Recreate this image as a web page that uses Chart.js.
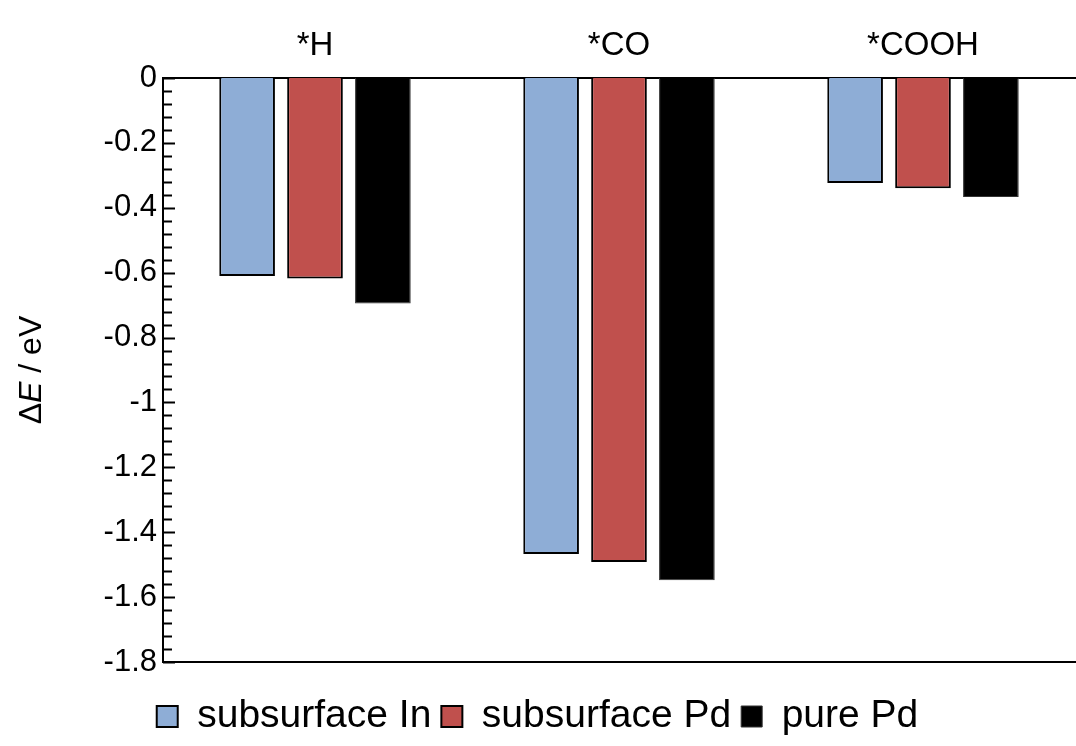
<!DOCTYPE html>
<html>
<head>
<meta charset="utf-8">
<script src="https://cdn.jsdelivr.net/npm/chart.js@4"></script>
<style>
  body { margin: 0; background: #fff; }
</style>
</head>
<body>
<canvas id="c" width="1076" height="746"></canvas>
<script>
const adsorbates = ['*H', '*CO', '*COOH'];
const subsurfaceIn = [-0.610, -1.467, -0.324];
const subsurfacePd = [-0.618, -1.492, -0.340];
const purePd = [-0.695, -1.548, -0.367];

const FONT = '"Liberation Sans", Arial, sans-serif';

// inward minor/major ticks on the y axis and y title with italic E
const frame = {
  id: 'frame',
  afterDraw(chart) {
    const { ctx, chartArea: a, scales: { y } } = chart;
    ctx.save();
    ctx.strokeStyle = '#000';
    ctx.lineWidth = 2;
    ctx.beginPath();
    for (let i = 0; i <= 45; i++) {
      const v = -i * 0.04;
      const py = Math.round(y.getPixelForValue(v)) + 0.5;
      const len = i % 5 === 0 ? 12 : 9;
      ctx.moveTo(a.left, py);
      ctx.lineTo(a.left + len, py);
    }
    ctx.stroke();

    ctx.translate(32, (a.top + a.bottom) / 2);
    ctx.rotate(-Math.PI / 2);
    ctx.fillStyle = '#000';
    ctx.textBaseline = 'middle';
    const parts = [['Δ', 'normal'], ['E', 'italic'], [' / eV', 'normal']];
    let w = 0;
    parts.forEach(p => { ctx.font = p[1] + ' 32px ' + FONT; w += ctx.measureText(p[0]).width; });
    let x = -w / 2;
    parts.forEach(p => {
      ctx.font = p[1] + ' 32px ' + FONT;
      ctx.fillText(p[0], x, 0);
      x += ctx.measureText(p[0]).width;
    });
    ctx.restore();
  }
};

new Chart(document.getElementById('c'), {
  type: 'bar',
  data: {
    labels: adsorbates,
    datasets: [
      {
        label: 'subsurface In',
        data: subsurfaceIn,
        backgroundColor: '#8EADD6',
        borderColor: '#000',
        borderWidth: 2
      },
      {
        label: 'subsurface Pd',
        data: subsurfacePd,
        backgroundColor: '#C0504D',
        borderColor: '#000',
        borderWidth: 2
      },
      {
        label: 'pure Pd',
        data: purePd,
        backgroundColor: '#000',
        borderColor: '#333',
        borderWidth: 1
      }
    ]
  },
  options: {
    responsive: false,
    animation: false,
    layout: { padding: { left: 0, right: 1, top: 0, bottom: 0 } },
    categoryPercentage: 0.67,
    barPercentage: 0.82,
    scales: {
      x: {
        position: 'top',
        grid: { display: false, drawTicks: false },
        border: { display: true, color: '#000', width: 2 },
        ticks: { color: '#000', font: { family: FONT, size: 33 }, padding: 12 },
        afterFit: s => { s.height = 78; }
      },
      // empty bottom axis: draws the bottom frame line and spaces the legend
      x2: {
        type: 'category',
        labels: adsorbates,
        position: 'bottom',
        grid: { display: false, drawTicks: false },
        border: { display: true, color: '#000', width: 2 },
        ticks: { display: false },
        afterFit: s => { s.height = 25; }
      },
      y: {
        min: -1.8,
        max: 0,
        grid: { display: false, drawTicks: false },
        border: { display: true, color: '#000', width: 2 },
        ticks: {
          stepSize: 0.2,
          color: '#000',
          padding: 6,
          font: { family: FONT, size: 31 },
          callback: v => String(Math.round(v * 10) / 10)
        },
        afterFit: s => { s.width = 163; }
      }
    },
    plugins: {
      legend: {
        position: 'bottom',
        labels: {
          color: '#000',
          font: { family: FONT, size: 39 },
          boxWidth: 21,
          boxHeight: 21,
          padding: 10
        }
      },
      tooltip: { enabled: false }
    }
  },
  plugins: [frame]
});
</script>
</body>
</html>
